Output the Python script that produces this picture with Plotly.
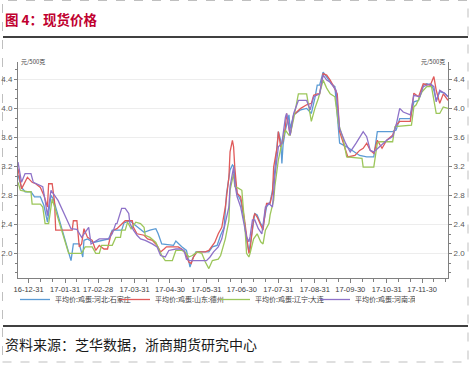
import plotly.graph_objects as go

# ---------------- data ----------------
hb_dates = ["2016-12-22","2016-12-25","2016-12-28","2017-01-02","2017-01-05","2017-01-10","2017-01-13","2017-01-16","2017-01-19","2017-01-21",
            "2017-02-05","2017-02-07","2017-02-12","2017-02-15","2017-02-16","2017-02-19","2017-02-24","2017-03-09","2017-03-12","2017-03-20",
            "2017-03-22","2017-03-27","2017-03-30","2017-04-03","2017-04-08","2017-04-13","2017-04-18","2017-04-20","2017-04-23","2017-05-03",
            "2017-05-05","2017-05-10","2017-05-14","2017-05-17","2017-05-19","2017-05-22","2017-06-02","2017-06-05","2017-06-09","2017-06-12",
            "2017-06-15","2017-06-17","2017-06-20","2017-06-22","2017-06-23","2017-06-24","2017-06-26","2017-06-29","2017-07-02","2017-07-04",
            "2017-07-06","2017-07-09","2017-07-11","2017-07-13","2017-07-16","2017-07-18","2017-07-21","2017-07-24","2017-07-26","2017-07-28",
            "2017-07-31","2017-08-02","2017-08-03","2017-08-04","2017-08-06","2017-08-09","2017-08-10","2017-08-13","2017-08-19","2017-08-24",
            "2017-08-28","2017-08-31","2017-09-02","2017-09-04","2017-09-07","2017-09-11","2017-09-14","2017-09-17","2017-09-20","2017-09-21",
            "2017-09-27","2017-10-03","2017-10-08","2017-10-14","2017-10-20","2017-10-23","2017-11-05","2017-11-08","2017-11-11","2017-11-20",
            "2017-11-23","2017-11-27","2017-12-01","2017-12-04","2017-12-08","2017-12-10","2017-12-12","2017-12-15","2017-12-19","2017-12-22"]
hb_vals = [3.08,2.91,2.85,2.85,2.78,2.78,2.66,2.43,2.80,2.75,
           1.90,2.13,2.13,1.95,2.18,2.20,2.15,2.20,2.32,2.32,
           2.42,2.45,2.41,2.36,2.29,2.32,2.34,2.27,2.13,2.11,
           2.17,2.09,2.04,1.81,1.92,2.02,2.02,2.09,2.11,2.25,
           2.36,2.82,3.15,3.22,3.20,3.06,2.83,2.73,2.46,2.18,
           2.02,2.32,2.55,2.53,2.41,2.37,2.64,2.71,2.87,3.15,
           3.68,3.56,3.24,3.50,3.70,3.91,3.72,3.91,3.98,4.00,
           3.93,4.14,4.32,4.32,4.50,4.41,4.34,4.30,3.79,3.52,
           3.47,3.40,3.35,3.33,3.33,3.68,3.68,3.70,3.86,3.86,
           4.09,4.11,4.32,4.34,4.32,4.25,4.11,4.23,4.21,4.16]

sd_dates = ["2016-12-22","2016-12-25","2016-12-30","2017-01-03","2017-01-06","2017-01-10","2017-01-13","2017-01-16","2017-01-17","2017-01-20",
            "2017-01-22","2017-01-23","2017-02-06","2017-02-07","2017-02-10","2017-02-12","2017-02-14","2017-02-16","2017-02-19","2017-02-23",
            "2017-02-26","2017-03-01","2017-03-05","2017-03-08","2017-03-11","2017-03-13","2017-03-16","2017-03-20","2017-03-23","2017-03-29",
            "2017-03-30","2017-04-02","2017-04-08","2017-04-11","2017-04-15","2017-04-19","2017-04-22","2017-04-25","2017-04-27","2017-05-07",
            "2017-05-10","2017-05-13","2017-05-16","2017-05-18","2017-05-20","2017-05-23","2017-05-30","2017-06-02","2017-06-05","2017-06-07",
            "2017-06-10","2017-06-13","2017-06-16","2017-06-19","2017-06-20","2017-06-22","2017-06-23","2017-06-24","2017-06-26","2017-06-29",
            "2017-07-02","2017-07-04","2017-07-06","2017-07-07","2017-07-10","2017-07-11","2017-07-13","2017-07-16","2017-07-18","2017-07-20",
            "2017-07-21","2017-07-24","2017-07-26","2017-07-27","2017-07-30","2017-07-31","2017-08-02","2017-08-04","2017-08-06","2017-08-07",
            "2017-08-09","2017-08-10","2017-08-13","2017-08-19","2017-08-24","2017-08-28","2017-08-30","2017-09-02","2017-09-04","2017-09-07",
            "2017-09-10","2017-09-13","2017-09-16","2017-09-19","2017-09-21","2017-09-26","2017-09-28","2017-10-04","2017-10-08","2017-10-11",
            "2017-10-14","2017-10-17","2017-10-20","2017-10-23","2017-10-27","2017-10-31","2017-11-05","2017-11-08","2017-11-11","2017-11-20",
            "2017-11-23","2017-11-27","2017-12-01","2017-12-07","2017-12-10","2017-12-12","2017-12-15","2017-12-18","2017-12-22"]
sd_vals = [3.17,2.89,3.05,2.98,2.96,2.91,2.80,2.64,2.96,2.96,
           2.71,2.32,2.32,2.45,2.45,2.09,2.13,2.34,2.22,2.18,
           2.04,2.11,2.06,2.06,2.27,2.32,2.34,2.41,2.45,2.45,
           2.36,2.27,2.25,2.20,2.18,2.11,2.02,2.06,2.09,2.09,
           2.06,2.00,1.88,1.86,1.95,2.02,2.02,2.04,2.11,2.15,
           2.27,2.36,2.64,3.05,3.40,3.56,3.47,3.19,2.83,2.78,
           2.50,2.23,2.00,2.04,2.50,2.55,2.50,2.39,2.32,2.60,
           2.69,2.69,2.83,3.19,3.47,3.68,3.47,3.56,3.75,3.93,
           3.68,3.63,3.91,4.00,4.05,4.07,4.18,4.20,4.20,4.48,
           4.46,4.39,4.30,4.20,3.68,3.45,3.33,3.35,3.42,3.45,
           3.52,3.42,3.38,3.56,3.45,3.56,3.63,3.77,3.82,3.82,
           4.21,4.16,4.34,4.32,4.44,4.25,4.07,4.20,4.11]

ln_dates = ["2016-12-22","2016-12-24","2016-12-30","2017-01-02","2017-01-03","2017-01-10","2017-01-12","2017-01-14","2017-01-17","2017-01-20",
            "2017-02-03","2017-02-14","2017-02-17","2017-02-23","2017-02-26","2017-03-01","2017-03-03","2017-03-12","2017-03-15","2017-03-19",
            "2017-03-20","2017-03-23","2017-03-25","2017-03-28","2017-04-01","2017-04-05","2017-04-08","2017-04-09","2017-04-13","2017-04-18",
            "2017-04-23","2017-04-26","2017-05-02","2017-05-05","2017-05-10","2017-05-13","2017-05-16","2017-05-19","2017-05-23","2017-05-27",
            "2017-05-30","2017-06-02","2017-06-05","2017-06-10","2017-06-12","2017-06-16","2017-06-19","2017-06-20","2017-06-23","2017-06-24",
            "2017-06-27","2017-06-30","2017-07-03","2017-07-04","2017-07-06","2017-07-07","2017-07-10","2017-07-13","2017-07-16","2017-07-18",
            "2017-07-20","2017-07-23","2017-07-24","2017-07-27","2017-07-28","2017-07-31","2017-08-03","2017-08-06","2017-08-09","2017-08-10",
            "2017-08-13","2017-08-17","2017-08-24","2017-08-27","2017-08-28","2017-08-31","2017-09-03","2017-09-07","2017-09-10","2017-09-13",
            "2017-09-17","2017-09-20","2017-09-24","2017-09-27","2017-10-10","2017-10-11","2017-10-20","2017-10-23","2017-10-25","2017-11-05",
            "2017-11-07","2017-11-21","2017-11-23","2017-11-25","2017-11-30","2017-12-04","2017-12-08","2017-12-12","2017-12-15","2017-12-18",
            "2017-12-22"]
ln_vals = [2.98,2.87,2.85,2.85,2.68,2.68,2.64,2.41,2.41,2.75,
           2.00,2.00,2.09,2.09,2.00,2.00,2.11,2.11,2.22,2.22,
           2.32,2.32,2.43,2.34,2.43,2.41,2.36,2.25,2.22,2.15,
           1.97,1.90,1.90,2.04,2.04,2.02,1.95,1.97,2.02,2.00,
           1.88,1.79,1.90,1.92,1.97,2.20,2.45,2.87,3.10,2.92,
           2.90,2.87,2.27,2.00,1.95,2.00,2.20,2.27,2.16,2.13,
           2.32,2.41,2.53,2.73,2.92,3.29,3.52,3.70,3.63,3.63,
           3.86,4.20,4.20,3.91,3.82,4.00,4.14,4.39,4.28,4.20,
           4.16,3.79,3.58,3.33,3.31,3.19,3.19,3.52,3.54,3.54,
           3.75,3.77,4.02,4.05,4.23,4.30,4.30,3.93,3.93,4.02,
           4.00]

hn_dates = ["2016-12-22","2016-12-25","2016-12-28","2017-01-02","2017-01-04","2017-01-09","2017-01-12","2017-01-14","2017-01-16","2017-01-19",
            "2017-01-22","2017-01-25","2017-02-05","2017-02-10","2017-02-14","2017-02-19","2017-02-20","2017-02-22","2017-02-27","2017-03-01",
            "2017-03-09","2017-03-12","2017-03-15","2017-03-16","2017-03-20","2017-03-23","2017-03-26","2017-03-27","2017-03-30","2017-04-02",
            "2017-04-05","2017-04-09","2017-04-15","2017-04-19","2017-04-22","2017-04-26","2017-04-29","2017-05-05","2017-05-09","2017-05-12",
            "2017-05-14","2017-05-17","2017-05-31","2017-06-03","2017-06-06","2017-06-10","2017-06-13","2017-06-16","2017-06-19","2017-06-20",
            "2017-06-22","2017-06-23","2017-06-24","2017-06-26","2017-06-29","2017-07-02","2017-07-04","2017-07-06","2017-07-07","2017-07-09",
            "2017-07-11","2017-07-14","2017-07-17","2017-07-20","2017-07-23","2017-07-26","2017-07-28","2017-07-31","2017-08-03","2017-08-06",
            "2017-08-07","2017-08-10","2017-08-13","2017-08-17","2017-08-24","2017-08-27","2017-08-30","2017-09-04","2017-09-07","2017-09-10",
            "2017-09-13","2017-09-18","2017-09-21","2017-09-26","2017-09-30","2017-10-05","2017-10-11","2017-10-14","2017-10-17","2017-10-20",
            "2017-10-25","2017-10-31","2017-11-05","2017-11-08","2017-11-11","2017-11-14","2017-11-20","2017-11-23","2017-11-28","2017-12-01",
            "2017-12-07","2017-12-10","2017-12-12","2017-12-15","2017-12-19","2017-12-22"]
hn_vals = [3.26,2.98,3.10,3.10,2.98,2.94,2.92,2.73,2.52,2.87,
           2.80,2.73,2.34,2.33,2.22,2.34,2.36,2.13,2.18,2.20,
           2.20,2.27,2.41,2.41,2.62,2.62,2.55,2.41,2.32,2.25,
           2.20,2.18,2.13,2.09,1.97,1.95,2.04,2.06,2.06,2.04,
           1.92,1.90,1.90,1.95,2.02,2.09,2.20,2.41,2.64,2.92,
           3.10,3.19,2.96,2.78,2.64,2.41,2.23,2.16,2.23,2.46,
           2.46,2.34,2.27,2.64,2.69,2.64,3.06,3.47,3.52,3.88,
           3.93,3.63,3.93,4.11,4.11,3.98,4.16,4.20,4.46,4.39,
           4.36,4.25,3.72,3.52,3.40,3.52,3.68,3.61,3.42,3.40,
           3.47,3.56,3.61,3.77,4.00,3.95,3.91,4.18,4.16,4.30,
           4.34,4.30,4.09,4.25,4.21,4.16]

series_names = ["平均价:鸡蛋:河北:石家庄", "平均价:鸡蛋:山东:德州", "平均价:鸡蛋:辽宁:大连", "平均价:鸡蛋:河南:商丘"]
series_colors = ["#5B9BD5", "#E05A5A", "#9CC65A", "#8E72C8"]

x_tick_dates = ["2016-12-31","2017-01-31","2017-02-28","2017-03-31","2017-04-30","2017-05-31",
                "2017-06-30","2017-07-31","2017-08-31","2017-09-30","2017-10-31","2017-11-30"]
x_minor_dates = [f"2017-{m:02d}-{d}" for m in range(1, 13) for d in (10, 20)]
y_tick_vals = [2.0, 2.4, 2.8, 3.2, 3.6, 4.0, 4.4]
y_tick_text = ["2.0", "2.4", "2.8", "3.2", "3.6", "4.0", "4.4"]
unit_label = "元/500克"
title_text = "图 4：现货价格"
source_text = "资料来源：芝华数据，浙商期货研究中心"

# ---------------- figure ----------------
W, H = 472, 365
L, R, T, B = 18, 24, 62, 87
pw, ph = W - L - R, H - T - B

def px(x):
    return (x - L) / pw

def py(y):
    return (H - B - y) / ph

fig = go.Figure()
for d, v, n, c in zip([hb_dates, sd_dates, ln_dates, hn_dates],
                      [hb_vals, sd_vals, ln_vals, hn_vals],
                      series_names, series_colors):
    fig.add_trace(go.Scatter(x=d, y=v, name=n, mode="lines",
                             line=dict(color=c, width=1.3)))
# right axis carrier (no visible data)
fig.add_trace(go.Scatter(x=[hb_dates[0]], y=[hb_vals[0]], yaxis="y2", mode="lines",
                         showlegend=False, hoverinfo="skip", line=dict(width=0)))

axis_font = dict(family="Liberation Sans, Arial, sans-serif", size=8, color="#595959")
yrange = [1.66, 4.64]
ycommon = dict(range=yrange, tickmode="array", tickvals=y_tick_vals, ticktext=y_tick_text,
               ticks="outside", ticklen=3, tickcolor="#808080", showline=True,
               linecolor="#808080", linewidth=1, tickfont=axis_font, zeroline=False,
               minor=dict(tickmode="linear", tick0=2.0, dtick=0.4 / 3, ticks="outside",
                          ticklen=2, tickcolor="#808080", showgrid=False))

fig.update_layout(
    width=W, height=H,
    margin=dict(l=L, r=R, t=T, b=B, pad=0, autoexpand=False),
    paper_bgcolor="white", plot_bgcolor="white",
    font=dict(family="Noto Sans CJK SC, sans-serif"),
    showlegend=True,
    legend=dict(orientation="h", x=px(15), y=py(285), xanchor="left", yanchor="top",
                font=dict(family="Noto Sans CJK SC, sans-serif", size=7, color="#404040"),
                entrywidth=55, entrywidthmode="pixels", itemwidth=30,
                bgcolor="rgba(0,0,0,0)", borderwidth=0, tracegroupgap=0),
    xaxis=dict(type="date", range=["2016-12-22", "2017-12-22"], tickmode="array",
               tickvals=x_tick_dates, tickformat="%y-%m-%d", tickangle=0, ticks="outside", ticklen=4,
               tickcolor="#808080", showline=True, linecolor="#808080", linewidth=1,
               showgrid=False, tickfont=dict(family="Liberation Sans, Arial, sans-serif",
                                             size=7.5, color="#404040"),
               minor=dict(tickmode="array", tickvals=x_minor_dates, ticks="outside",
                          ticklen=3, tickcolor="#808080", showgrid=False)),
    yaxis=dict(side="left", showgrid=True, gridcolor="#EDEDED", gridwidth=1, **ycommon),
    yaxis2=dict(side="right", overlaying="y", showgrid=False, **ycommon),
)

shapes = [
    # dashed outer frame
    dict(type="rect", xref="paper", yref="paper", x0=px(2.5), x1=px(468), y0=py(362), y1=py(0.5),
         line=dict(color="#BFBFBF", width=1, dash="dash"), fillcolor="rgba(0,0,0,0)", layer="below"),
    # rules
    dict(type="line", xref="paper", yref="paper", x0=px(3), x1=px(468), y0=py(37), y1=py(37),
         line=dict(color="black", width=1.5)),
    dict(type="line", xref="paper", yref="paper", x0=px(3), x1=px(468), y0=py(326), y1=py(326),
         line=dict(color="black", width=1.5)),
]
fig.update_layout(shapes=shapes)

annotations = [
    dict(text=title_text, xref="paper", yref="paper", x=px(3), y=py(19), xanchor="left",
         yanchor="middle", showarrow=False,
         font=dict(family="Noto Sans CJK SC, sans-serif", size=13.5, color="#C0002F", weight="bold")),
    dict(text=source_text, xref="paper", yref="paper", x=px(3), y=py(344), xanchor="left",
         yanchor="middle", showarrow=False,
         font=dict(family="Noto Sans CJK SC, sans-serif", size=14, color="#1A1A1A")),
    dict(text=unit_label, xref="paper", yref="paper", x=px(19), y=py(61), xanchor="left",
         yanchor="middle", showarrow=False,
         font=dict(family="Noto Sans CJK SC, sans-serif", size=6, color="#404040")),
    dict(text=unit_label, xref="paper", yref="paper", x=px(447), y=py(61), xanchor="right",
         yanchor="middle", showarrow=False,
         font=dict(family="Noto Sans CJK SC, sans-serif", size=6, color="#404040")),
]
fig.update_layout(annotations=annotations)

fig.write_html("out.html")
